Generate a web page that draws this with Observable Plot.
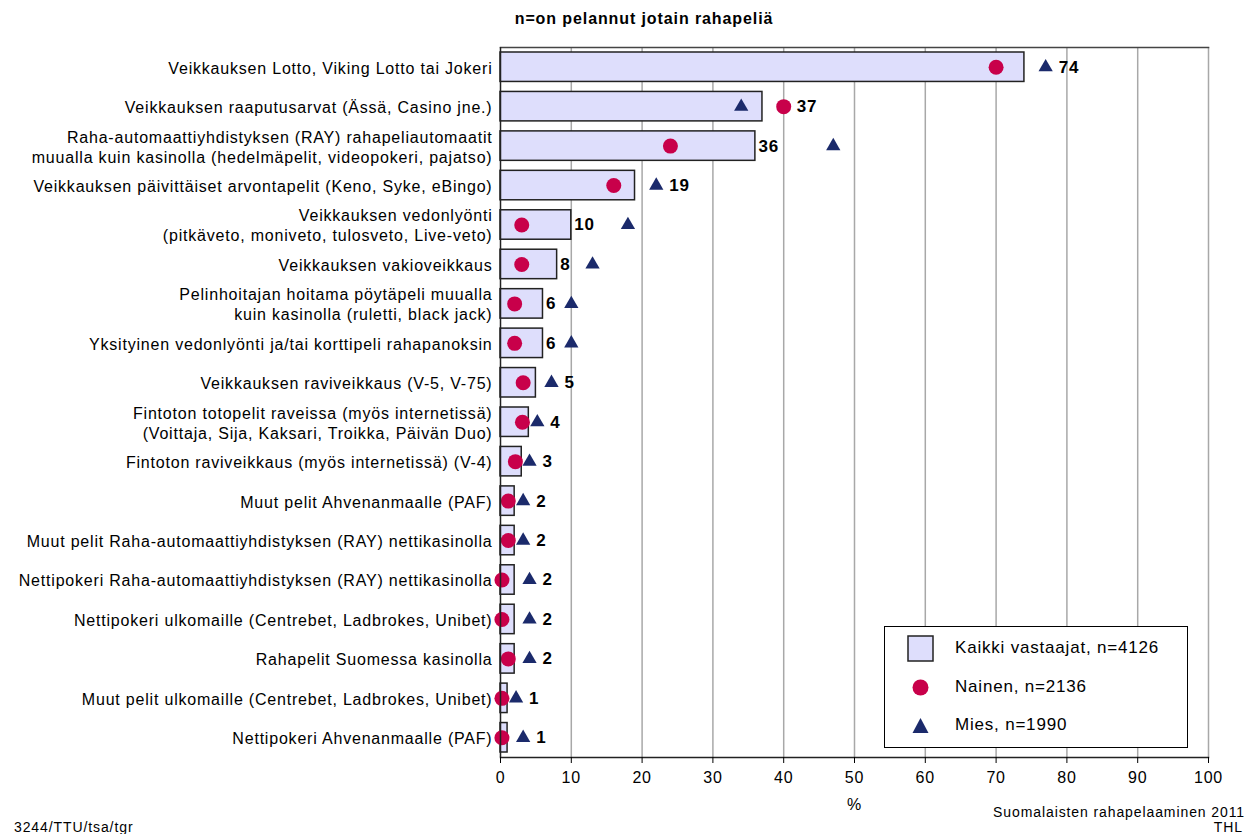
<!DOCTYPE html>
<html>
<head>
<meta charset="utf-8">
<script src="https://cdn.jsdelivr.net/npm/d3@7"></script>
<script src="https://cdn.jsdelivr.net/npm/@observablehq/plot@0.6"></script>
<style>
  html, body { margin: 0; padding: 0; background: #fff; }
  body { width: 1248px; height: 834px; position: relative; overflow: hidden; font-family: "Liberation Sans", Arial, sans-serif; }
  #subtitle { position: absolute; left: 0; top: 10px; width: 1288px; text-align: center; font-size: 16px; font-weight: bold; color: #000; letter-spacing: 0.9px; }
  #chart { position: absolute; left: 0; top: 36px; }
  #chart text { letter-spacing: 0.8px; }
  #legend { position: absolute; left: 884px; top: 626px; width: 302px; height: 120px; border: 1.5px solid #000; background: #fff; }
  .lg-row { position: absolute; left: 0; height: 26px; display: flex; align-items: center; font-size: 17px; color: #000; letter-spacing: 0.8px; }
  .lg-row svg { margin-left: 22px; margin-right: 21px; }
  .note { position: absolute; font-size: 14px; color: #000; white-space: nowrap; letter-spacing: 0.9px; }
</style>
</head>
<body>
<div id="subtitle">n=on pelannut jotain rahapeliä</div>
<div id="chart"></div>
<div id="legend">
  <div class="lg-row" style="top:8px"><svg width="27" height="27"><rect x="1" y="1" width="25" height="25" fill="#dedefc" stroke="#222" stroke-width="1.5"/></svg><span>Kaikki vastaajat, n=4126</span></div>
  <div class="lg-row" style="top:47px"><svg width="27" height="27"><circle cx="13.5" cy="13.5" r="8" fill="#c8004a"/></svg><span>Nainen, n=2136</span></div>
  <div class="lg-row" style="top:85px"><svg width="27" height="27"><path d="M13.5,6 L21.5,21 L5.5,21 Z" fill="#1b2a6b"/></svg><span>Mies, n=1990</span></div>
</div>
<div class="note" style="right:3px; top:804px;">Suomalaisten rahapelaaminen 2011</div>
<div class="note" style="right:5px; top:819px;">THL</div>
<div class="note" style="left:14px; top:819px;">3244/TTU/tsa/tgr</div>
<script>
const categories = [
  "Veikkauksen Lotto, Viking Lotto tai Jokeri",
  "Veikkauksen raaputusarvat (Ässä, Casino jne.)",
  "Raha-automaattiyhdistyksen (RAY) rahapeliautomaatit\nmuualla kuin kasinolla (hedelmäpelit, videopokeri, pajatso)",
  "Veikkauksen päivittäiset arvontapelit (Keno, Syke, eBingo)",
  "Veikkauksen vedonlyönti\n(pitkäveto, moniveto, tulosveto, Live-veto)",
  "Veikkauksen vakioveikkaus",
  "Pelinhoitajan hoitama pöytäpeli muualla\nkuin kasinolla (ruletti, black jack)",
  "Yksityinen vedonlyönti ja/tai korttipeli rahapanoksin",
  "Veikkauksen raviveikkaus (V-5, V-75)",
  "Fintoton totopelit raveissa (myös internetissä)\n(Voittaja, Sija, Kaksari, Troikka, Päivän Duo)",
  "Fintoton raviveikkaus (myös internetissä) (V-4)",
  "Muut pelit Ahvenanmaalle (PAF)",
  "Muut pelit Raha-automaattiyhdistyksen (RAY) nettikasinolla",
  "Nettipokeri Raha-automaattiyhdistyksen (RAY) nettikasinolla",
  "Nettipokeri ulkomaille (Centrebet, Ladbrokes, Unibet)",
  "Rahapelit Suomessa kasinolla",
  "Muut pelit ulkomaille (Centrebet, Ladbrokes, Unibet)",
  "Nettipokeri Ahvenanmaalle (PAF)"
];
const kaikki = [74, 37, 36, 19, 10, 8, 6, 6, 5, 4, 3, 2, 2, 2, 2, 2, 1, 1];
const nainen = [70, 40, 24, 16, 3, 3, 2, 2, 3.2, 3.1, 2.1, 1.1, 1.1, 0.2, 0.2, 1.1, 0.2, 0.2];
const mies   = [77, 34, 47, 22, 18, 13, 10, 10, 7.2, 5.2, 4.1, 3.2, 3.2, 4.1, 4.1, 4.1, 2.2, 3.2];
const xTicks = [0, 10, 20, 30, 40, 50, 60, 70, 80, 90, 100];

const data = categories.map((c, i) => {
  const near = [nainen[i], mies[i]].filter(v => v > kaikki[i] && v - kaikki[i] <= 3);
  const pos = Math.max(kaikki[i], ...near);
  return {cat: c, kaikki: kaikki[i], nainen: nainen[i], mies: mies[i], pos, afterMarker: near.length > 0};
});

const font = "'Liberation Sans', Arial, sans-serif";

const chart = Plot.plot({
  width: 1248,
  height: 798,
  marginLeft: 500,
  marginRight: 40,
  marginTop: 11,
  marginBottom: 77,
  style: {fontFamily: font, fontSize: "16px", color: "#000", background: "#fff"},
  x: {domain: [0, 100], ticks: xTicks, label: "%"},
  y: {domain: categories, padding: 0, round: false},
  marks: [
    Plot.ruleX(xTicks.slice(1), {stroke: "#a8a8a8", strokeWidth: 1.5}),
    Plot.frame({anchor: "top", stroke: "#444", strokeWidth: 1.5}),
    Plot.barX(data, {x: "kaikki", y: "cat", fill: "#dedefc", stroke: "#222", strokeWidth: 1.5, insetTop: 5, insetBottom: 5}),
    Plot.dot(data, {x: "nainen", y: "cat", r: 7.5, fill: "#c8004a", stroke: "none"}),
    Plot.dot(data, {x: "mies", y: "cat", r: 5.3, symbol: "triangle", fill: "#1b2a6b", stroke: "none"}),
    Plot.text(data.filter(d => d.afterMarker), {x: "pos", y: "cat", text: d => String(d.kaikki), dx: 13, textAnchor: "start", fontWeight: "bold", fontSize: 17}),
    Plot.text(data.filter(d => !d.afterMarker), {x: "pos", y: "cat", text: d => String(d.kaikki), dx: 3, textAnchor: "start", fontWeight: "bold", fontSize: 17}),
    Plot.ruleX([0], {stroke: "#222", strokeWidth: 1.5}),
    Plot.frame({anchor: "bottom", stroke: "#222", strokeWidth: 1.5}),
    Plot.axisY({tickSize: 0, tickPadding: 8, fontSize: 16, lineHeight: 1.25, label: null}),
    Plot.axisX({ticks: xTicks, tickSize: 6, tickPadding: 8, fontSize: 16, label: "%", labelAnchor: "center", labelOffset: 52, labelArrow: "none"})
  ]
});
document.getElementById("chart").appendChild(chart);
</script>
</body>
</html>
